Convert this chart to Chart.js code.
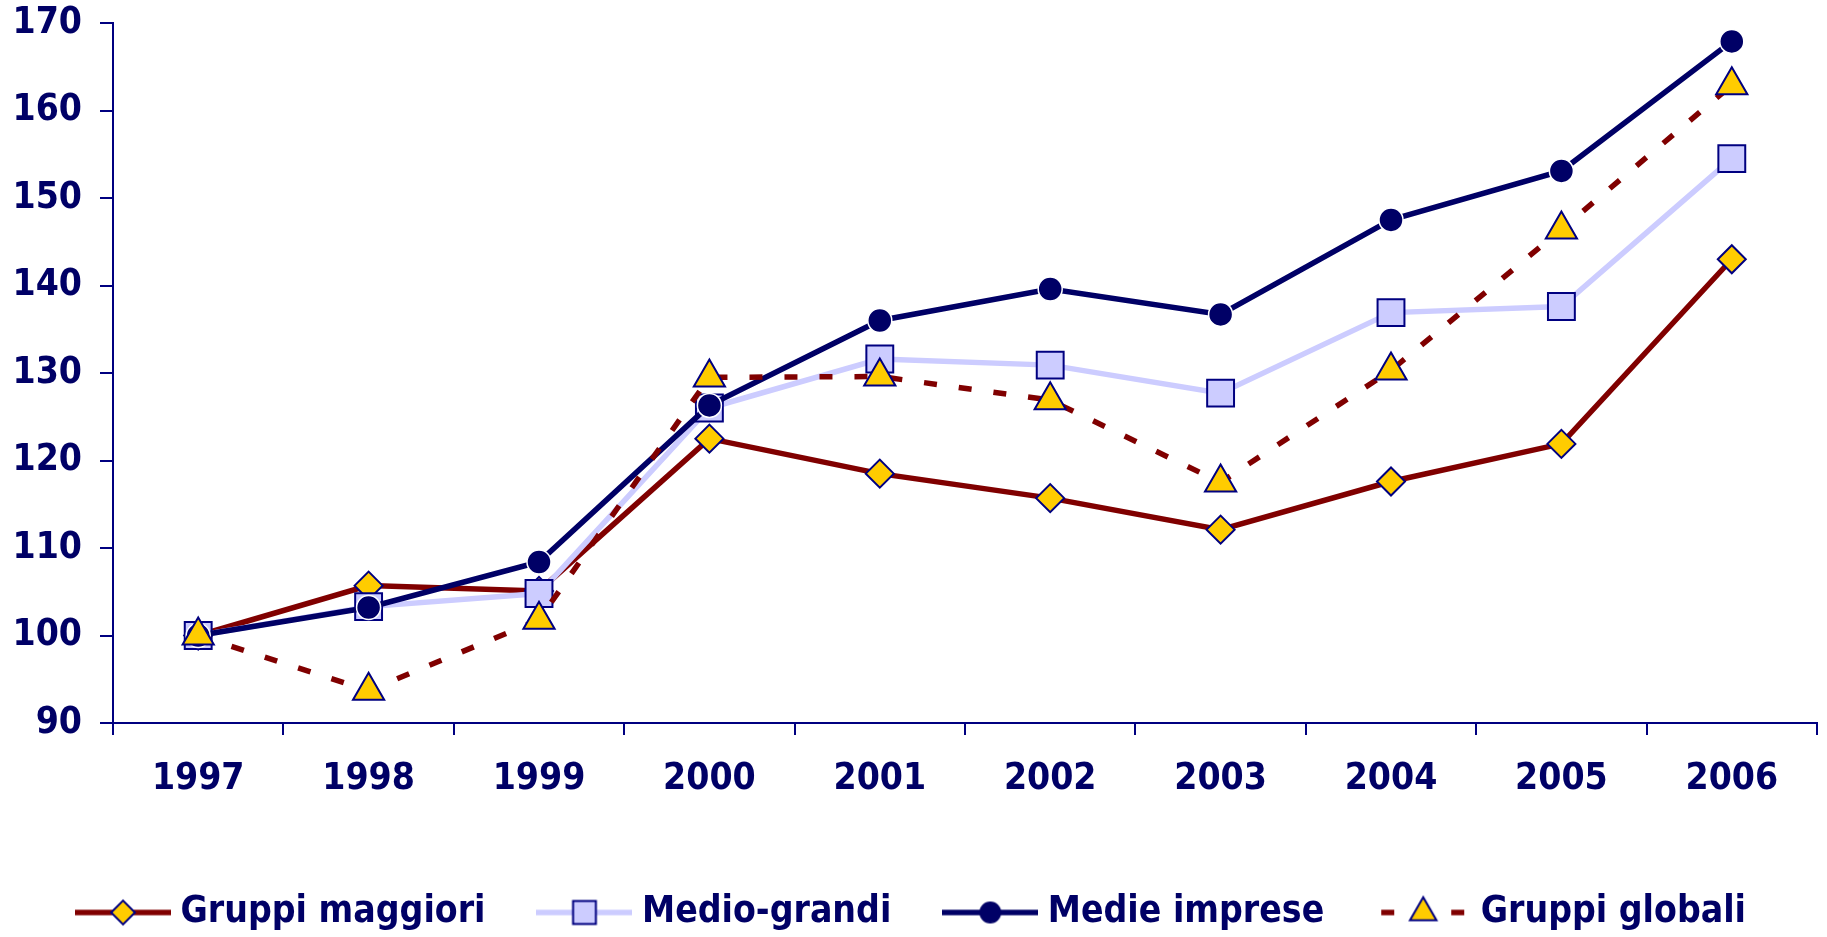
<!DOCTYPE html>
<html>
<head>
<meta charset="utf-8">
<script src="https://cdn.jsdelivr.net/npm/chart.js@4/dist/chart.umd.min.js"></script>
<style>
  html, body { margin: 0; padding: 0; background: #ffffff; }
  #wrap { width: 1827px; height: 937px; }
</style>
</head>
<body>
<div id="wrap"><canvas id="indici" width="1827" height="937"></canvas></div>
<script>
// DATA
const anni = ["1997", "1998", "1999", "2000", "2001", "2002", "2003", "2004", "2005", "2006"];
const gruppiMaggiori = [100, 105.7, 105.1, 122.5, 118.5, 115.7, 112.1, 117.6, 121.9, 143.0];
const medioGrandi = [100, 103.3, 104.8, 126.0, 131.6, 130.9, 127.7, 136.9, 137.6, 154.5];
const medieImprese = [100, 103.2, 108.4, 126.3, 136.0, 139.6, 136.7, 147.5, 153.1, 167.9];
const gruppiGlobali = [100, 93.7, 101.8, 129.5, 129.6, 126.9, 117.5, 130.3, 146.4, 162.9];

// GLOBALS
const NAVY = "#000066";
const AXIS = "#000080";
Chart.defaults.font.family = "'DejaVu Sans Condensed', 'DejaVu Sans', sans-serif";
Chart.defaults.font.size = 37;
Chart.defaults.font.weight = "bold";
Chart.defaults.color = NAVY;

const datasets = [
  {
    label: "Gruppi maggiori",
    data: gruppiMaggiori,
    borderColor: "#800000",
    borderWidth: 5.5,
    pointStyle: "rectRot",
    pointRadius: 14,
    pointBackgroundColor: "#FFCC00",
    pointBorderColor: AXIS,
    pointBorderWidth: 2,
    order: 4,
  },
  {
    label: "Medio-grandi",
    data: medioGrandi,
    borderColor: "#CCCCFF",
    borderWidth: 5.5,
    pointStyle: "rect",
    pointRadius: 19,
    pointBackgroundColor: "#CCCCFF",
    pointBorderColor: AXIS,
    pointBorderWidth: 2,
    order: 3,
  },
  {
    label: "Medie imprese",
    data: medieImprese,
    borderColor: NAVY,
    borderWidth: 5.5,
    pointStyle: "circle",
    pointRadius: 12,
    pointBackgroundColor: NAVY,
    pointBorderColor: "#FFFFFF",
    pointBorderWidth: 1.5,
    order: 2,
  },
  {
    label: "Gruppi globali",
    data: gruppiGlobali,
    borderColor: "#800000",
    borderWidth: 5.5,
    borderDash: [13, 22],
    pointStyle: "triangle",
    pointRadius: 18,
    pointBackgroundColor: "#FFCC00",
    pointBorderColor: AXIS,
    pointBorderWidth: 2,
    order: 1,
  },
];

// legend swatch: line sample with the marker in the middle
function swatch(ds) {
  const c = document.createElement("canvas");
  c.width = 96;
  c.height = 40;
  const ctx = c.getContext("2d");
  ctx.strokeStyle = ds.borderColor;
  ctx.lineWidth = ds.borderWidth;
  ctx.setLineDash(ds.borderDash || []);
  ctx.lineDashOffset = -6;
  ctx.beginPath();
  ctx.moveTo(0, 20);
  ctx.lineTo(96, 20);
  ctx.stroke();
  ctx.setLineDash([]);
  ctx.fillStyle = ds.pointBackgroundColor;
  ctx.strokeStyle = ds.pointStyle === "circle" ? NAVY : ds.pointBorderColor;
  ctx.lineWidth = ds.pointBorderWidth;
  Chart.helpers.drawPoint(ctx, {
    pointStyle: ds.pointStyle,
    radius: ds.pointRadius * 0.85,
    borderWidth: ds.pointBorderWidth,
    rotation: 0,
  }, 48, 20);
  return c;
}

const ctx = document.getElementById("indici").getContext("2d");
new Chart(ctx, {
  type: "line",
  data: { labels: anni, datasets: datasets },
  options: {
    responsive: false,
    animation: false,
    layout: { autoPadding: false, padding: { left: 13, right: 10, top: 23, bottom: 0 } },
    elements: { line: { tension: 0, fill: false } },
    plugins: {
      tooltip: { enabled: false },
      legend: {
        position: "bottom",
        maxHeight: 103,
        labels: {
          usePointStyle: true,
          pointStyleWidth: 78,
          padding: 60,
          color: NAVY,
          font: { size: 37, weight: "bold" },
          generateLabels: (chart) =>
            chart.data.datasets.map((ds, i) => ({
              text: ds.label,
              pointStyle: swatch(ds),
              fillStyle: "transparent",
              strokeStyle: "transparent",
              lineWidth: 0,
              hidden: false,
              datasetIndex: i,
              fontColor: NAVY,
            })),
        },
      },
    },
    scales: {
      x: {
        type: "category",
        offset: true,
        afterFit: (scale) => {
          scale.height = 111;
          scale.paddingLeft = 0;
          scale.paddingRight = 0;
        },
        grid: {
          offset: true,
          drawOnChartArea: false,
          tickLength: 12,
          color: AXIS,
          lineWidth: 2,
        },
        border: { color: AXIS, width: 2 },
        ticks: { padding: 22, color: NAVY, maxRotation: 0 },
      },
      y: {
        min: 90,
        max: 170,
        afterFit: (scale) => {
          scale.width = 100;
          scale.paddingTop = 0;
          scale.paddingBottom = 0;
        },
        grid: {
          drawOnChartArea: false,
          tickLength: 13,
          color: AXIS,
          lineWidth: 2,
        },
        border: { color: AXIS, width: 2 },
        ticks: { stepSize: 10, padding: 18, color: NAVY },
      },
    },
  },
});
</script>
</body>
</html>
